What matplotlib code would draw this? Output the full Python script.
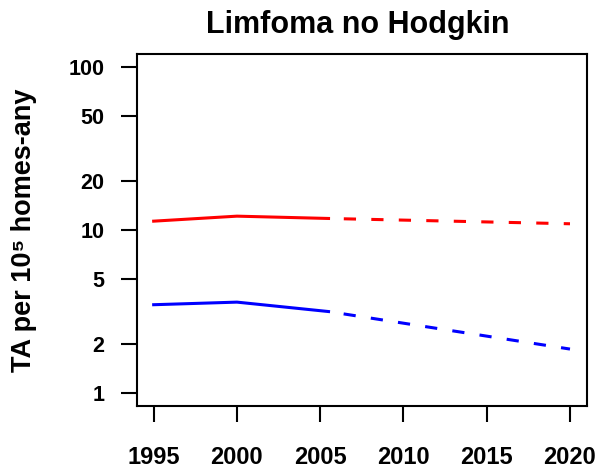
import numpy as np
import matplotlib.pyplot as plt

plt.rcParams['font.family'] = ['Liberation Sans', 'DejaVu Sans']

# observed period (solid) and projection (dashed)
years_obs = [1995, 2000, 2005.5]
red_obs = [11.33, 12.16, 11.77]
blue_obs = [3.48, 3.61, 3.16]

years_proj = [2005.5, 2020]
red_proj = [11.77, 10.92]
blue_proj = [3.16, 1.86]

yticks = [1, 2, 5, 10, 20, 50, 100]
xticks = [1995, 2000, 2005, 2010, 2015, 2020]

fig = plt.figure(figsize=(5.96, 4.69), dpi=100)
ax = fig.add_axes([0.2299, 0.1343, 0.7544, 0.7506])

lw = 2.2
ax.plot(years_obs, red_obs, color='#ff0000', lw=lw)
ax.plot(years_proj, red_proj, color='#ff0000', lw=lw, linestyle=(4, (4, 5)))
ax.plot(years_obs, blue_obs, color='#0000ff', lw=lw)
ax.plot(years_proj, blue_proj, color='#0000ff', lw=lw, linestyle=(4, (4, 5)))

ax.set_yscale('log')
ax.set_ylim(0.832, 120.2)
ax.set_xlim(1994, 2021)
ax.set_yticks(yticks)
ax.set_yticklabels([str(v) for v in yticks])
ax.minorticks_off()
ax.set_xticks(xticks)
ax.set_xticklabels([str(v) for v in xticks])

for s in ax.spines.values():
    s.set_linewidth(1.5)
ax.tick_params(axis='y', direction='out', length=11.5, width=1.5, pad=12,
               labelsize=15.5)
ax.tick_params(axis='x', direction='out', length=11.5, width=1.5, pad=17,
               labelsize=17)
for lab in ax.get_xticklabels() + ax.get_yticklabels():
    lab.set_fontweight('bold')

fig.text(0.600, 0.9296, 'Limfoma no Hodgkin', ha='center', va='baseline',
         fontsize=22, fontweight='bold')
fig.text(0.040, 0.508, 'TA per 10\u2075 homes-any', ha='center', va='center',
         rotation=90, fontsize=19.5, fontweight='bold')

fig.savefig('out.png', dpi=100)
